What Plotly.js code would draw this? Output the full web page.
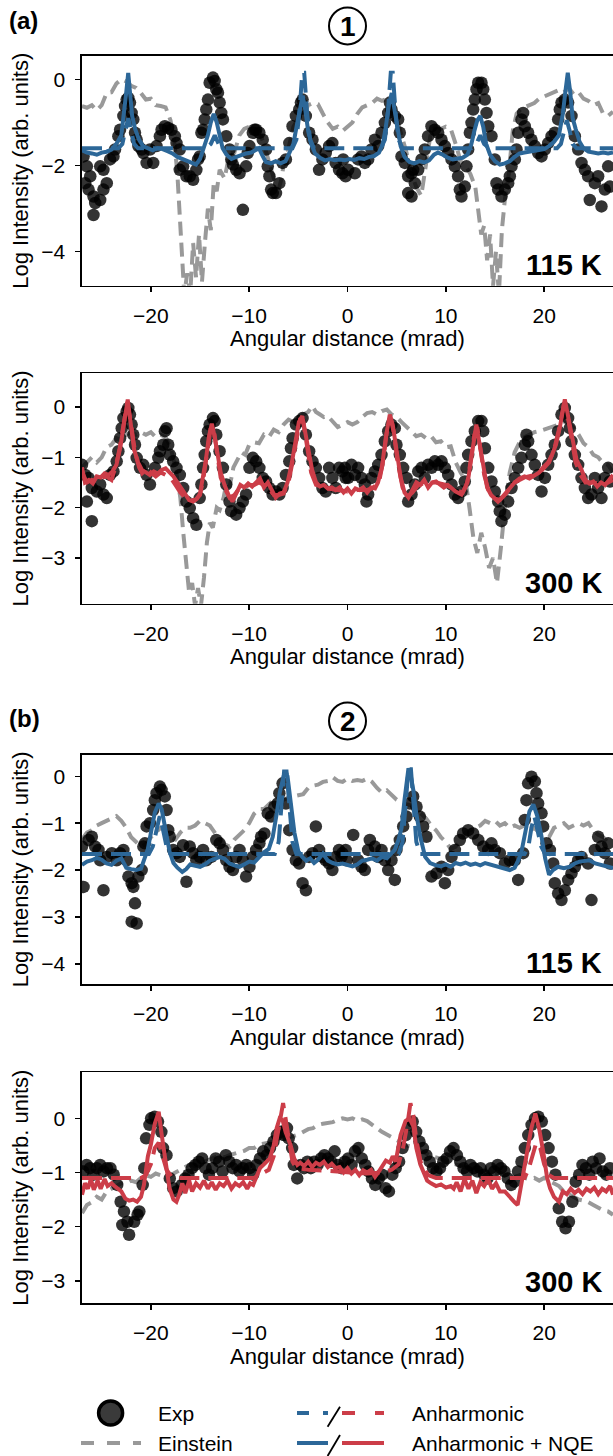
<!DOCTYPE html>
<html><head><meta charset="utf-8">
<script src="https://cdn.plot.ly/plotly-3.0.1.min.js"></script>
<style>html,body{margin:0;padding:0;background:#fff}</style>
</head><body><div id="chart" style="width:613px;height:1456px"></div>
<script>
// ---------- Panel (a) 115 K ----------
const p1_exp_x = [-26.84,-26.5,-26.16,-26.67,-26.33,-25.83,-25.66,-25.15,-25.83,-24.82,-24.48,-24.82,-25.15,-24.14,-23.8,-23.64,-23.3,-23.13,-22.79,-22.62,-22.46,-22.29,-22.12,-21.95,-21.78,-21.61,-21.44,-21.27,-20.93,-20.76,-20.43,-20.09,-19.76,-19.42,-19.08,-18.91,-18.58,-18.24,-17.9,-17.56,-17.39,-17.06,-17.06,-16.72,-16.38,-16.04,-15.7,-15.37,-15.2,-15.03,-14.86,-14.69,-14.52,-14.36,-14.19,-14.02,-13.68,-13.51,-13.34,-13.17,-13.0,-12.84,-12.67,-12.33,-11.99,-11.82,-11.65,-11.32,-10.98,-10.64,-10.31,-10.14,-9.97,-9.63,-9.46,-9.29,-8.96,-8.62,-8.28,-8.11,-7.94,-7.77,-7.6,-7.27,-6.93,-6.6,-6.26,-5.92,-5.59,-5.25,-4.91,-4.74,-4.57,-4.24,-3.9,-3.56,-3.22,-2.89,-2.55,-2.21,-1.87,-1.54,-1.2,-0.86,-0.52,-0.19,
 -0.44,0.07,0.75,1.08,1.42,1.76,2.1,2.44,2.78,3.12,3.46,3.8,4.14,4.31,4.47,4.81,5.15,5.32,5.49,5.83,6.17,6.51,6.68,6.85,6.17,6.51,7.19,7.53,7.86,8.2,8.54,8.88,9.22,9.56,9.9,10.24,10.58,10.92,11.25,11.42,11.59,11.93,12.1,12.27,12.44,12.61,12.78,12.95,13.12,13.29,13.63,13.8,13.97,14.14,14.31,14.64,14.98,15.15,15.32,15.66,16.0,16.34,16.51,16.68,17.02,17.19,17.36,17.69,17.86,18.03,18.37,18.71,19.05,19.39,19.73,20.07,20.41,20.75,21.08,21.42,21.59,21.76,22.1,22.44,22.78,23.12,23.46,23.8,24.14,24.47,24.64,25.15,25.49,25.83,26.17,26.51,26.68];
const p1_exp_y = [-1.79,-2.02,-2.25,-2.41,-2.56,-2.72,-2.87,-2.80,-3.15,-2.56,-2.41,-2.10,-2.02,-1.86,-1.79,-1.63,-1.32,-1.17,-0.85,-0.62,-0.47,-0.43,-0.54,-0.78,-0.93,-1.24,-1.40,-1.55,-1.63,-1.71,-1.94,-1.63,-1.94,-1.55,-1.32,-1.17,-1.09,-1.13,-1.17,-1.32,-1.48,-1.63,-2.10,-2.02,-2.25,-2.25,-2.33,-2.10,-1.86,-1.79,-1.24,-1.17,-0.93,-0.70,-0.47,-0.08,0.04,-0.04,-0.23,-0.31,-0.54,-0.78,-0.93,-1.32,-1.63,-1.86,-1.98,-2.10,-2.18,-3.03,-2.02,-1.71,-1.55,-1.24,-1.17,-1.17,-1.24,-1.40,-1.63,-2.02,-2.25,-2.56,-2.64,-2.64,-2.41,-1.94,-1.86,-1.48,-1.09,-0.85,-0.70,-0.54,-0.47,-0.85,-1.24,-1.40,-1.63,-2.10,-1.86,-1.71,-1.55,-1.48,-1.94,-2.10,-2.18,-2.25,
 -1.86,-2.10,-2.18,-1.86,-1.79,-1.94,-1.86,-1.63,-1.40,-1.55,-1.24,-1.01,-0.78,-0.54,-0.70,-0.85,-0.93,-1.24,-1.79,-1.94,-2.25,-2.18,-2.10,-2.41,-2.64,-2.72,-2.10,-1.86,-1.63,-1.32,-1.09,-1.17,-1.24,-1.40,-1.55,-1.71,-1.86,-2.02,-2.25,-2.56,-2.72,-2.49,-2.02,-1.63,-1.24,-1.01,-0.70,-0.47,-0.23,-0.08,-0.08,-0.23,-0.47,-0.78,-1.09,-1.32,-1.86,-2.41,-2.56,-2.72,-2.56,-2.41,-2.25,-2.02,-1.86,-1.63,-1.24,-0.93,-0.78,-1.09,-1.24,-1.40,-1.55,-1.71,-1.79,-1.63,-1.48,-1.32,-1.24,-0.93,-0.70,-0.54,-0.47,-0.54,-0.85,-1.32,-1.63,-1.94,-2.10,-2.25,-2.80,-2.41,-2.25,-2.95,-2.56,-2.02,-2.49];
const p1_ein_x = [-27,-26.5,-26,-25.5,-25,-24.5,-24,-23.5,-23,-22.5,-22,-21.5,-21,-20.5,-20,-19.5,-19,-18.5,-18,-17.6,-17.3,-17,-16.8,-16.6,-16.3,-16,-15.7,-15.4,-15.1,-14.8,-14.5,-14.2,-13.9,-13.6,-13.3,-13,-12.5,-12,-11.5,-11,-10.5,-10,-9.5,-9,-8.5,-8,-7.5,-7,-6.7,-6.3,-6,-5.5,-5,-4.5,-4,-3.5,-3,-2.5,-2,-1.5,-1,-0.5,0,0.5,1,1.5,2,2.5,3,3.5,4,4.5,5,5.5,6,6.5,7,7.5,8,8.5,9,9.5,10,10.5,11,11.5,12,12.5,13,13.3,13.6,13.9,14.2,14.5,14.8,15.1,15.4,15.7,16,16.4,16.8,17.2,17.6,18,18.5,19,19.5,20,20.5,21,21.5,22,22.5,23,23.5,24,24.5,25,25.5,26,26.5,27];
const p1_ein_y = [-0.62,-0.66,-0.6,-0.72,-0.6,-0.32,-0.3,-0.1,0.0,-0.05,-0.15,-0.2,-0.32,-0.47,-0.45,-0.6,-0.62,-0.65,-0.95,-1.45,-2.2,-3.2,-4.2,-5.0,-4.5,-5.0,-3.8,-4.6,-3.6,-4.7,-3.8,-3.0,-3.5,-2.4,-2.6,-2.1,-2.3,-1.72,-1.7,-1.3,-1.15,-1.1,-1.17,-1.2,-1.5,-1.9,-2.3,-2.55,-2.3,-1.65,-1.6,-1.1,-0.9,-0.85,-0.6,-0.55,-0.58,-0.8,-1.0,-1.15,-1.1,-1.2,-1.1,-1.0,-0.8,-0.65,-0.6,-0.55,-0.45,-0.5,-0.45,-0.55,-0.9,-1.3,-1.7,-2.2,-2.5,-2.7,-2.0,-1.2,-1.1,-1.15,-1.1,-1.15,-1.5,-1.9,-2.0,-2.2,-2.5,-3.0,-3.6,-3.4,-4.2,-3.6,-4.8,-4.0,-5.0,-3.5,-2.8,-2.2,-1.2,-0.8,-0.7,-0.65,-0.6,-0.55,-0.45,-0.4,-0.35,-0.3,-0.25,-0.3,-0.2,-0.35,-0.3,-0.45,-0.5,-0.6,-0.55,-0.8,-0.85,-0.75];
const p1_anh_x = [-27,-23.3,-22.9,-22.6,-22.3,-22.0,-21.7,-21.3,-14.4,-13.9,-13.5,-13.1,-12.6,-5.6,-5.2,-4.9,-4.6,-4.4,-4.1,-3.8,-3.4,3.4,3.8,4.1,4.4,4.6,4.9,5.2,5.6,12.6,13.1,13.5,13.9,14.4,21.3,21.7,22.0,22.3,22.6,22.9,23.3,27];
const p1_anh_y = [-1.6,-1.6,-1.5,-1.2,-0.9,-1.2,-1.5,-1.6,-1.6,-1.5,-1.3,-1.5,-1.6,-1.6,-1.4,-0.8,0.15,0.15,-0.8,-1.4,-1.6,-1.6,-1.4,-0.8,0.15,0.15,-0.8,-1.4,-1.6,-1.6,-1.5,-1.3,-1.5,-1.6,-1.6,-1.5,-1.2,-0.95,-1.2,-1.5,-1.6,-1.6];
const p1_nqe_x = [-27,-26.5,-26,-25.5,-25,-24.5,-24,-23.5,-23,-22.7,-22.5,-22.3,-22.1,-21.9,-21.6,-21.2,-20.8,-20.3,-19.8,-19.3,-18.8,-18.3,-17.8,-17.3,-16.8,-16.3,-15.8,-15.4,-15,-14.6,-14.2,-13.9,-13.6,-13.3,-13,-12.7,-12.3,-11.8,-11.3,-10.8,-10.3,-9.8,-9.3,-9,-8.7,-8.3,-7.8,-7.3,-6.8,-6.3,-5.9,-5.5,-5.1,-4.8,-4.55,-4.3,-4.0,-3.7,-3.3,-2.8,-2.3,-1.8,-1.3,-0.8,-0.3,0.2,0.7,1.2,1.7,2.2,2.7,3.2,3.6,3.9,4.2,4.5,4.8,5.1,5.4,5.8,6.3,6.8,7.3,7.8,8.3,8.8,9.2,9.7,10.2,10.7,11.2,11.7,12.2,12.6,12.9,13.2,13.5,13.8,14.1,14.5,15,15.5,16,16.5,17,17.5,18,18.5,19,19.5,20,20.5,21,21.5,21.9,22.15,22.4,22.65,22.9,23.2,23.6,24,24.5,25,25.5,26,26.5,27];
const p1_nqe_y = [-1.65,-1.7,-1.72,-1.75,-1.7,-1.68,-1.63,-1.5,-1.3,-0.8,-0.3,0.15,-0.3,-0.85,-1.15,-1.4,-1.55,-1.6,-1.65,-1.6,-1.62,-1.67,-1.72,-1.8,-1.85,-1.9,-1.95,-1.98,-1.85,-1.6,-1.3,-1.0,-0.8,-1.0,-1.35,-1.6,-1.75,-1.85,-1.8,-1.75,-1.72,-1.7,-1.65,-1.6,-1.75,-1.92,-1.95,-1.9,-1.95,-1.9,-1.7,-1.5,-1.0,-0.6,-0.38,-0.7,-1.2,-1.5,-1.72,-1.82,-1.88,-1.85,-1.88,-1.86,-1.88,-1.85,-1.87,-1.83,-1.85,-1.8,-1.78,-1.7,-1.5,-1.1,-0.6,-0.32,-0.7,-1.2,-1.55,-1.8,-1.92,-1.95,-1.9,-1.93,-1.88,-1.75,-1.7,-1.75,-1.82,-1.86,-1.85,-1.82,-1.75,-1.5,-1.2,-0.95,-0.85,-1.1,-1.5,-1.75,-1.9,-1.98,-1.95,-1.9,-1.8,-1.72,-1.7,-1.68,-1.65,-1.63,-1.62,-1.55,-1.45,-1.3,-0.8,-0.3,0.15,-0.3,-0.9,-1.15,-1.45,-1.6,-1.68,-1.7,-1.72,-1.7,-1.72,-1.7];

// ---------- Panel (a) 300 K ----------
const p2_exp_x = [-27.0,-26.67,-26.33,-26.0,-26.5,-26.0,-25.49,-25.15,-24.82,-24.48,-24.14,-23.8,-23.47,-23.3,-23.13,-22.96,-22.79,-22.46,-22.29,-22.12,-21.95,-21.78,-21.61,-21.44,-21.1,-20.77,-20.43,-20.09,-19.58,-19.24,-19.07,-18.74,-18.57,-18.4,-18.23,-18.06,-17.73,-17.39,-17.05,-16.71,-16.38,-16.04,-15.7,-15.37,-15.03,-14.86,-14.69,-14.52,-14.36,-14.19,-14.02,-13.68,-13.51,-13.34,-13.01,-12.67,-12.33,-12.0,-11.83,-11.32,-10.98,-10.64,-10.31,-9.97,-9.63,-9.29,-8.96,-8.62,-8.28,-7.95,-7.61,-7.27,-6.93,-6.6,-6.26,-5.92,-5.75,-5.58,-5.25,-4.91,-4.57,-4.23,-3.9,-3.56,-3.22,-2.88,-2.55,-2.21,-1.87,-1.54,-1.2,-0.86,-0.52,-0.19,
 -0.27,0.07,0.41,0.75,1.08,1.42,1.76,1.93,2.1,2.44,2.78,3.12,3.46,3.8,4.14,4.47,4.81,4.98,5.32,5.66,6.0,6.17,6.51,6.85,7.19,7.53,7.86,8.2,8.54,8.88,9.22,9.56,9.9,10.24,10.58,10.92,11.25,11.59,11.93,12.1,12.27,12.61,12.95,13.29,13.63,13.8,13.97,14.31,14.64,14.98,15.32,15.49,15.66,16.0,16.34,16.68,17.02,17.36,17.69,18.03,18.2,18.37,18.71,19.05,19.39,19.73,20.07,20.41,20.75,21.08,21.42,21.76,22.1,22.44,22.61,22.78,23.12,23.46,23.8,24.14,24.47,24.81,25.15,25.49,25.83,26.17,26.51,26.68];
const p2_exp_y = [-1.15,-1.35,-1.41,-1.61,-1.88,-2.27,-1.68,-1.54,-1.74,-1.81,-1.35,-1.28,-1.08,-0.88,-0.62,-0.42,-0.22,-0.09,-0.02,-0.15,-0.35,-0.55,-0.75,-1.01,-1.21,-1.15,-1.35,-1.54,-1.21,-1.01,-0.88,-0.75,-0.48,-0.42,-0.75,-0.95,-1.08,-1.21,-1.35,-1.61,-1.88,-2.01,-2.21,-2.34,-1.81,-1.54,-1.21,-0.95,-0.68,-0.48,-0.35,-0.22,-0.28,-0.55,-0.88,-1.21,-1.54,-1.88,-2.07,-2.14,-2.01,-1.88,-1.74,-1.21,-1.01,-1.08,-1.21,-1.41,-1.48,-1.61,-1.74,-1.68,-1.74,-1.61,-1.35,-1.08,-0.82,-0.62,-0.35,-0.28,-0.22,-0.55,-0.88,-1.08,-1.21,-1.41,-1.61,-1.68,-1.21,-1.41,-1.61,-1.21,-1.28,-1.41,
 -1.21,-1.41,-1.15,-1.35,-1.21,-1.41,-1.54,-1.88,-1.74,-1.41,-1.28,-1.15,-0.95,-0.68,-0.48,-0.35,-0.42,-0.75,-0.95,-1.21,-1.41,-1.88,-1.74,-1.54,-1.28,-1.21,-1.41,-1.15,-1.21,-1.08,-1.15,-1.08,-1.21,-1.35,-1.54,-1.74,-1.81,-1.68,-1.48,-1.21,-0.95,-0.68,-0.48,-0.28,-0.28,-0.48,-0.82,-1.21,-1.48,-1.68,-1.88,-2.07,-2.27,-2.14,-1.88,-1.61,-1.41,-1.21,-1.01,-0.75,-0.55,-0.68,-0.95,-1.15,-1.35,-1.68,-1.41,-1.15,-0.95,-0.75,-0.48,-0.15,-0.02,-0.22,-0.42,-0.68,-0.95,-1.15,-1.41,-1.61,-1.81,-1.74,-1.41,-1.61,-1.81,-1.41,-1.21,-1.48];
const p2_ein_x = [-27,-26.5,-26,-25.5,-25,-24.5,-24,-23.5,-23,-22.5,-22,-21.5,-21,-20.5,-20,-19.5,-19,-18.5,-18,-17.5,-17,-16.7,-16.4,-16.1,-15.8,-15.5,-15.2,-14.9,-14.6,-14.3,-14,-13.7,-13.3,-13,-12.6,-12.3,-12,-11.6,-11.2,-10.8,-10.4,-10,-9.5,-9,-8.5,-8,-7.5,-7,-6.5,-6,-5.5,-5,-4.5,-4,-3.6,-3.2,-2.8,-2.4,-2,-1.5,-1,-0.5,0,0.5,1,1.5,2,2.5,3,3.5,4,4.5,5,5.5,6,6.5,7,7.5,8,8.5,9,9.5,10,10.5,11,11.5,12,12.4,12.8,13.2,13.6,14,14.4,14.8,15.2,15.6,16,16.5,17,17.5,18,18.5,19,19.5,20,20.5,21,21.5,22,22.5,23,23.5,24,24.5,25,25.5,26,26.5,27];
const p2_ein_y = [-1.2,-1.1,-1.0,-1.1,-1.0,-0.8,-0.75,-0.62,-0.65,-0.55,-0.5,-0.55,-0.5,-0.55,-0.5,-0.6,-0.55,-0.6,-0.8,-1.2,-1.8,-2.5,-3.2,-3.7,-3.5,-3.95,-3.6,-3.95,-3.4,-2.7,-2.3,-2.4,-2.0,-2.05,-1.8,-1.5,-1.6,-1.2,-1.05,-0.9,-0.95,-0.75,-0.7,-0.72,-0.55,-0.6,-0.45,-0.5,-0.35,-0.25,-0.3,-0.2,-0.15,-0.1,0.02,-0.1,-0.15,-0.2,-0.18,-0.3,-0.4,-0.35,-0.3,-0.35,-0.3,-0.2,-0.12,-0.1,-0.15,-0.08,-0.05,-0.15,-0.2,-0.3,-0.4,-0.5,-0.58,-0.55,-0.62,-0.58,-0.7,-0.68,-0.8,-0.78,-1.1,-1.3,-1.45,-2.0,-2.6,-2.9,-2.5,-2.8,-3.2,-3.0,-3.5,-2.8,-2.0,-1.3,-0.9,-0.7,-0.6,-0.55,-0.5,-0.48,-0.45,-0.42,-0.4,-0.35,-0.3,-0.32,-0.42,-0.55,-0.72,-0.8,-0.95,-1.0,-1.12,-1.15,-1.3];
const p2_anh_x = [-27,-26.5,-26,-25.5,-25,-24.5,-24,-23.6,-23.2,-22.8,-22.4,-22.0,-21.6,-21.2,-20.8,-20.4,-20,-19.5,-19,-18.5,-18,-17.5,-17,-16.5,-16,-15.5,-15,-14.6,-14.2,-13.9,-13.6,-13.3,-12.9,-12.4,-12,-11.5,-11,-10.5,-10,-9.5,-9,-8.5,-8,-7.5,-7,-6.5,-6,-5.6,-5.2,-4.8,-4.5,-4.1,-3.7,-3.2,-2.5,-2,-1,0,1,2,2.5,3.2,3.6,4.0,4.35,4.7,5.1,5.6,6.1,6.6,7.2,8,9,10,11,11.7,12.2,12.6,12.9,13.2,13.5,13.9,14.4,15,15.5,16,16.5,17,18,19,19.8,20.5,21,21.5,22,22.4,22.8,23.2,23.7,24.2,25,26,27];
const p2_anh_y = [-1.3,-1.5,-1.45,-1.48,-1.4,-1.38,-1.45,-1.2,-0.85,-0.35,0.1,-0.35,-0.9,-1.2,-1.35,-1.4,-1.3,-1.38,-1.3,-1.35,-1.4,-1.55,-1.7,-1.8,-1.85,-1.85,-1.75,-1.35,-0.8,-0.4,-0.45,-0.9,-1.4,-1.65,-1.8,-1.75,-1.62,-1.6,-1.55,-1.55,-1.5,-1.55,-1.62,-1.75,-1.75,-1.72,-1.5,-1.1,-0.6,-0.22,-0.3,-0.8,-1.3,-1.55,-1.6,-1.62,-1.65,-1.68,-1.65,-1.65,-1.62,-1.5,-1.1,-0.5,-0.2,-0.5,-1.1,-1.6,-1.78,-1.7,-1.55,-1.5,-1.5,-1.55,-1.65,-1.7,-1.5,-1.0,-0.55,-0.4,-0.8,-1.35,-1.7,-1.82,-1.85,-1.75,-1.62,-1.5,-1.4,-1.35,-1.25,-1.1,-0.85,-0.45,0.05,-0.2,-0.65,-1.1,-1.35,-1.5,-1.5,-1.55,-1.45];
const p2_nqe_x = [-27,-26.7,-26.3,-25.9,-25.5,-25.1,-24.7,-24.3,-23.9,-23.5,-23.1,-22.7,-22.35,-22.0,-21.7,-21.3,-20.9,-20.5,-20.1,-19.7,-19.3,-18.9,-18.5,-18.1,-17.7,-17.3,-16.9,-16.5,-16.1,-15.7,-15.3,-15,-14.7,-14.4,-14.1,-13.8,-13.5,-13.2,-12.9,-12.5,-12.1,-11.7,-11.3,-10.9,-10.5,-10.1,-9.7,-9.3,-8.9,-8.5,-8.1,-7.7,-7.3,-6.9,-6.5,-6.1,-5.7,-5.3,-4.95,-4.6,-4.3,-4.0,-3.6,-3.2,-2.8,-2.4,-2,-1.6,-1.2,-0.8,-0.4,0,0.4,0.8,1.2,1.6,2,2.4,2.8,3.1,3.5,3.9,4.3,4.6,5.0,5.4,5.8,6.2,6.6,7,7.4,7.8,8.2,8.6,9,9.4,9.8,10.2,10.6,11,11.6,12,12.3,12.6,12.9,13.1,13.4,13.8,14.2,14.6,15,15.3,15.7,16.1,16.5,17,17.5,18,18.5,19,19.5,19.9,20.4,20.8,21.2,21.6,22.1,22.5,22.9,23.3,23.8,24.2,24.6,25,25.4,25.8,26.2,26.6,27];
const p2_nqe_y = [-1.2,-1.5,-1.45,-1.52,-1.38,-1.4,-1.32,-1.35,-1.28,-1.15,-0.8,-0.35,0.15,-0.4,-0.85,-1.1,-1.25,-1.3,-1.35,-1.28,-1.32,-1.25,-1.22,-1.3,-1.38,-1.5,-1.62,-1.75,-1.85,-1.88,-1.82,-1.72,-1.4,-1.05,-0.6,-0.33,-0.6,-1.0,-1.3,-1.55,-1.75,-1.88,-1.7,-1.55,-1.6,-1.52,-1.58,-1.5,-1.42,-1.6,-1.5,-1.65,-1.8,-1.72,-1.7,-1.5,-1.15,-0.7,-0.3,-0.18,-0.5,-0.9,-1.25,-1.5,-1.58,-1.55,-1.62,-1.6,-1.65,-1.6,-1.7,-1.62,-1.72,-1.62,-1.65,-1.6,-1.7,-1.6,-1.62,-1.5,-1.2,-0.6,-0.15,-0.35,-0.95,-1.4,-1.7,-1.8,-1.65,-1.5,-1.55,-1.45,-1.6,-1.5,-1.48,-1.55,-1.6,-1.55,-1.62,-1.68,-1.74,-1.6,-1.4,-0.95,-0.5,-0.35,-0.7,-1.2,-1.6,-1.75,-1.82,-1.88,-1.8,-1.7,-1.6,-1.5,-1.42,-1.38,-1.42,-1.35,-1.3,-1.2,-1.1,-0.95,-0.75,-0.4,0.15,-0.25,-0.7,-1.05,-1.25,-1.45,-1.52,-1.48,-1.58,-1.5,-1.55,-1.45,-1.35];

// ---------- Panel (b) 115 K ----------
const p3_exp_x = [-27.0,-26.84,-26.33,-26.0,-25.66,-25.32,-25.15,-24.82,-24.48,-23.97,-23.47,-23.13,-22.79,-22.45,-22.28,-21.95,-21.78,-21.61,-21.95,-21.44,-21.27,-20.93,-20.76,-20.6,-20.43,-20.09,-19.76,-19.59,-19.42,-19.08,-18.91,-18.58,-18.4,-18.23,-18.07,-17.73,-17.39,-17.06,-16.72,-16.38,-16.04,-15.7,-15.37,-15.03,-14.69,-14.36,-13.85,-13.34,-13.0,-12.66,-12.33,-12.0,-11.65,-11.32,-10.98,-10.64,-10.31,-9.97,-9.63,-9.29,-8.96,-8.79,-8.45,-8.11,-7.78,-7.44,-7.1,-6.93,-6.6,-6.26,-5.92,-5.58,-5.25,-4.91,-4.57,-4.23,-3.9,-3.56,-3.22,-2.89,-2.55,-2.21,-1.87,-1.54,-1.2,-0.86,-0.52,-0.19,
 -0.61,-0.1,0.58,1.08,1.42,1.76,2.1,2.27,2.78,3.12,3.46,3.8,4.14,4.47,4.81,4.98,5.32,5.66,6.0,6.34,6.68,7.02,7.36,7.69,8.03,8.54,9.05,9.56,9.9,10.24,10.58,10.92,11.42,11.76,12.27,12.78,13.29,13.8,14.31,14.64,14.98,15.49,16.0,16.51,17.02,17.36,17.86,18.03,18.2,18.37,18.71,19.05,19.22,19.39,19.73,19.9,20.24,20.58,20.92,21.08,21.42,21.76,22.1,22.44,22.78,23.12,23.46,23.8,24.47,24.81,25.15,25.49,25.83,26.17,26.51,26.68];
const p3_exp_y = [-1.50,-2.36,-1.36,-1.29,-1.50,-1.57,-1.79,-2.43,-1.72,-1.64,-1.79,-1.64,-1.57,-1.79,-2.14,-2.28,-2.36,-2.71,-3.10,-3.14,-2.14,-2.00,-1.50,-1.43,-1.07,-1.00,-0.72,-0.51,-0.36,-0.22,-0.29,-0.43,-0.72,-1.15,-1.29,-1.57,-1.64,-1.72,-1.47,-2.25,-1.50,-1.64,-1.79,-1.72,-1.57,-1.79,-1.72,-1.36,-1.43,-1.57,-1.79,-1.93,-2.00,-1.72,-1.57,-1.79,-2.14,-1.93,-1.72,-1.57,-1.43,-1.29,-1.22,-0.79,-0.86,-0.65,-0.58,-0.36,-0.15,-0.58,-1.15,-1.57,-1.79,-1.86,-2.28,-2.43,-1.72,-1.64,-1.07,-1.57,-1.72,-1.79,-1.86,-2.00,-1.72,-1.57,-1.64,-1.57,
 -1.72,-1.79,-1.25,-1.79,-1.93,-2.00,-1.57,-1.36,-1.50,-1.72,-1.57,-1.79,-2.00,-1.79,-2.21,-1.57,-1.36,-1.07,-0.86,-0.58,-0.43,-0.65,-0.86,-1.07,-1.29,-2.14,-2.07,-1.93,-2.28,-2.00,-1.72,-1.57,-1.36,-1.22,-1.15,-1.22,-1.36,-1.50,-1.57,-1.43,-1.57,-1.64,-1.86,-1.79,-1.79,-2.21,-1.64,-0.93,-0.51,-0.15,-0.01,-0.11,-0.36,-0.58,-0.79,-1.07,-1.43,-1.57,-1.86,-2.28,-2.50,-2.64,-2.43,-2.21,-2.07,-1.93,-1.79,-1.72,-1.86,-2.64,-1.57,-1.29,-1.50,-1.64,-1.43,-1.86];
const p3_ein_x = [-27,-26.5,-26,-25.5,-25,-24.5,-24,-23.5,-23,-22.5,-22,-21.5,-21,-20.5,-20,-19.5,-19,-18.5,-18,-17.5,-17,-16.5,-16,-15.5,-15,-14.5,-14,-13.5,-13,-12.5,-12,-11.5,-11,-10.5,-10,-9.5,-9,-8.5,-8,-7.5,-7,-6.5,-6,-5.5,-5,-4.5,-4,-3.5,-3,-2.5,-2,-1.5,-1,-0.5,0,0.5,1,1.5,2,2.5,3,3.5,4,4.5,5,5.5,6,6.5,7,7.5,8,8.5,9,9.5,10,10.5,11,11.5,12,12.5,13,13.5,14,14.5,15,15.5,16,16.5,17,17.5,18,18.5,19,19.5,20,20.5,21,21.5,22,22.5,23,23.5,24,24.5,25,25.5,26,26.5,27];
const p3_ein_y = [-1.35,-1.2,-1.15,-1.05,-1.0,-0.95,-0.9,-0.85,-0.95,-1.1,-1.3,-1.4,-1.5,-1.45,-1.3,-1.2,-1.1,-1.15,-1.3,-1.35,-1.2,-1.1,-1.1,-1.05,-0.95,-1.0,-1.05,-1.2,-1.35,-1.45,-1.5,-1.35,-1.25,-1.15,-1.0,-0.8,-0.7,-0.7,-0.6,-0.5,-0.45,-0.5,-0.45,-0.42,-0.4,-0.38,-0.25,-0.2,-0.18,-0.12,-0.1,-0.02,-0.1,-0.12,-0.05,-0.1,-0.08,-0.1,-0.05,-0.12,-0.25,-0.35,-0.3,-0.4,-0.5,-0.55,-0.6,-0.62,-0.7,-0.8,-0.9,-1.05,-1.15,-1.3,-1.4,-1.55,-1.5,-1.35,-1.2,-1.15,-1.1,-1.05,-0.95,-1.0,-0.95,-1.05,-1.0,-1.1,-1.05,-1.1,-1.05,-1.15,-1.1,-1.2,-1.25,-1.3,-1.1,-1.05,-1.0,-1.1,-1.05,-1.0,-1.05,-1.0,-1.15,-1.25,-1.3,-1.4,-1.45];
const p3_anh_x = [-27,-20.2,-19.8,-19.4,-19.1,-18.8,-18.4,-18,-7.4,-7.0,-6.7,-6.45,-6.2,-5.95,-5.6,-5.2,5.2,5.6,5.95,6.2,6.45,6.7,7.0,7.4,18,18.4,18.7,19.0,19.3,19.7,20.1,27];
const p3_anh_y = [-1.66,-1.66,-1.5,-1.1,-0.85,-1.1,-1.5,-1.66,-1.66,-1.4,-0.6,0.1,0.1,-0.6,-1.4,-1.66,-1.66,-1.4,-0.6,0.15,0.15,-0.6,-1.4,-1.66,-1.66,-1.5,-1.1,-0.85,-1.1,-1.5,-1.66,-1.66];
const p3_nqe_x = [-27,-26.5,-26,-25.5,-25,-24.5,-24,-23.5,-23,-22.5,-22,-21.5,-21,-20.7,-20.3,-19.9,-19.6,-19.2,-18.9,-18.5,-18.1,-17.7,-17.3,-16.8,-16.4,-16,-15.5,-15,-14.5,-14,-13.5,-13,-12.5,-12,-11.5,-11,-10.5,-10,-9.5,-9,-8.5,-8,-7.6,-7.2,-6.9,-6.5,-6.3,-6.1,-5.8,-5.4,-5.0,-4.6,-4.2,-3.8,-3.4,-3,-2.5,-2,-1.5,-1,-0.5,0,0.5,1,1.5,2,2.5,3,3.5,4,4.5,4.8,5.2,5.5,5.8,6.0,6.2,6.4,6.7,7.0,7.4,7.9,8.4,9,9.5,10,10.5,11,11.5,12,12.5,13,13.5,14,14.5,15,15.5,16,16.5,17,17.4,17.7,18.1,18.5,18.9,19.3,19.7,20.1,20.5,20.9,21.4,22,22.6,23.1,23.6,24.1,24.6,25.2,25.8,26.4,27];
const p3_nqe_y = [-1.89,-1.82,-1.79,-1.74,-1.78,-1.86,-1.89,-1.8,-1.75,-1.95,-1.98,-2.0,-1.97,-1.8,-1.55,-1.1,-0.78,-0.58,-0.7,-1.15,-1.6,-1.85,-1.95,-2.04,-1.98,-1.88,-1.9,-1.93,-1.88,-1.8,-1.76,-1.72,-1.76,-1.86,-1.9,-1.93,-1.88,-1.82,-1.84,-1.72,-1.62,-1.55,-1.29,-0.8,-0.36,0.0,0.1,0.0,-0.5,-1.2,-1.6,-1.72,-1.8,-1.75,-1.85,-1.78,-1.65,-1.8,-1.85,-1.88,-1.86,-1.9,-1.92,-1.88,-1.8,-1.78,-1.75,-1.8,-1.72,-1.75,-1.65,-1.57,-1.35,-1.1,-0.5,-0.1,0.17,0.05,-0.3,-0.8,-1.29,-1.72,-1.85,-1.9,-1.92,-1.88,-1.93,-1.85,-1.88,-1.84,-1.89,-1.86,-1.9,-1.85,-1.88,-1.93,-1.96,-1.98,-2.0,-1.95,-1.78,-1.6,-1.15,-0.75,-0.6,-0.85,-1.25,-1.75,-2.1,-2.0,-1.93,-1.96,-1.93,-1.86,-1.82,-1.8,-1.79,-1.86,-1.9,-1.93,-1.96];

// ---------- Panel (b) 300 K ----------
const p4_exp_x = [-26.87,-26.53,-26.18,-25.84,-25.49,-25.15,-24.8,-24.46,-24.11,-23.77,-23.42,-23.07,-22.73,-22.38,-22.9,-22.21,-21.69,-21.35,-21.17,-20.83,-20.66,-20.48,-20.14,-19.97,-19.62,-19.27,-18.93,-18.76,-18.41,-18.07,-17.72,-17.37,-16.86,-16.51,-16.17,-15.82,-15.47,-15.13,-14.78,-14.44,-14.09,-13.75,-13.4,-13.06,-12.71,-12.37,-12.02,-11.68,-11.33,-10.98,-10.64,-10.29,-9.95,-9.6,-9.26,-8.91,-8.57,-8.22,-7.88,-7.53,-7.18,-6.84,-6.49,-6.15,-5.98,-5.63,-5.46,-5.11,-4.77,-4.42,-4.08,-3.73,-3.39,-3.04,-2.69,-2.35,-2.0,-1.66,-1.31,-0.97,-0.62,-0.28,0.07,0.41,0.76,1.11,1.45,1.8,2.14,2.49,2.83,3.18,3.52,3.87,4.21,4.56,4.9,5.25,5.6,5.94,6.29,6.63,6.98,7.32,7.67,8.01,8.36,8.7,9.05,9.4,9.74,10.09,10.43,10.78,11.12,11.47,11.81,12.16,12.5,12.85,13.19,13.54,13.89,14.23,14.58,14.92,15.27,15.61,15.96,16.3,16.65,16.99,17.34,17.69,18.03,18.38,18.72,19.07,19.41,19.76,20.1,20.45,20.79,21.14,21.49,21.83,22.18,22.52,22.87,23.21,23.56,23.9,24.25,24.59,24.94,25.28,25.63,25.97,26.32,26.67];
const p4_exp_y = [-0.98,-0.86,-0.92,-1.04,-0.92,-0.86,-0.98,-0.92,-0.92,-1.04,-1.23,-1.54,-1.72,-1.91,-1.97,-2.15,-1.91,-1.78,-1.72,-1.23,-0.92,-0.37,-0.12,0.0,0.03,-0.06,-0.25,-0.55,-0.68,-1.11,-1.29,-1.35,-1.23,-1.11,-1.04,-0.92,-0.86,-0.80,-0.74,-0.92,-1.04,-0.92,-0.74,-0.80,-0.98,-0.68,-0.80,-0.92,-0.86,-0.98,-0.92,-0.86,-0.92,-1.04,-0.86,-0.74,-0.61,-0.68,-0.55,-0.43,-0.31,-0.25,-0.31,-0.18,-0.37,-0.55,-0.86,-1.11,-0.86,-0.92,-0.80,-0.92,-0.80,-0.86,-0.74,-0.68,-0.74,-0.80,-0.61,-0.86,-0.92,-0.80,-0.74,-0.86,-0.61,-0.55,-0.74,-0.86,-0.98,-1.11,-1.23,-1.11,-1.04,-1.29,-1.35,-1.04,-0.92,-0.80,-0.55,-0.31,-0.12,-0.06,-0.25,-0.43,-0.55,-0.68,-0.80,-0.92,-0.98,-0.92,-0.80,-0.74,-0.61,-0.55,-0.68,-0.80,-0.92,-0.98,-0.86,-0.92,-0.98,-0.92,-1.04,-1.11,-0.92,-0.98,-0.86,-0.92,-0.98,-1.11,-1.23,-1.17,-0.98,-0.80,-0.55,-0.31,-0.12,0.0,0.03,-0.06,-0.31,-0.55,-0.80,-1.04,-1.66,-1.91,-2.03,-1.91,-1.54,-1.17,-1.04,-0.86,-0.92,-1.04,-0.80,-0.92,-0.74,-0.98,-1.04,-0.92];
const p4_ein_x = [-27,-26.5,-26,-25.5,-25,-24.5,-24,-23.5,-23,-22.5,-22,-21.5,-21,-20.5,-20,-19.5,-19,-18.5,-18,-17.5,-17,-16.5,-16,-15.5,-15,-14.5,-14,-13.5,-13,-12.5,-12,-11.5,-11,-10.5,-10,-9.5,-9,-8.5,-8,-7.5,-7,-6.5,-6,-5.5,-5,-4.5,-4,-3.5,-3,-2.5,-2,-1.5,-1,-0.5,0,0.5,1,1.5,2,2.5,3,3.5,4,4.5,5,5.5,6,6.5,7,7.5,8,8.5,9,9.5,10,10.5,11,11.5,12,12.5,13,13.5,14,14.5,15,15.5,16,16.5,17,17.5,18,18.5,19,19.5,20,20.5,21,21.5,22,22.5,23,23.5,24,24.5,25,25.5,26,26.5,27];
const p4_ein_y = [-1.75,-1.6,-1.55,-1.45,-1.5,-1.35,-1.3,-1.25,-1.2,-1.2,-1.15,-1.18,-1.1,-1.05,-1.08,-1.02,-1.05,-1.0,-1.05,-1.0,-0.95,-0.9,-0.85,-0.88,-0.8,-0.8,-0.75,-0.72,-0.7,-0.72,-0.68,-0.65,-0.62,-0.6,-0.55,-0.55,-0.48,-0.47,-0.45,-0.42,-0.4,-0.38,-0.35,-0.33,-0.3,-0.25,-0.2,-0.18,-0.12,-0.1,-0.08,-0.07,-0.03,0.0,-0.02,0.0,-0.05,-0.02,-0.05,-0.12,-0.18,-0.25,-0.3,-0.35,-0.42,-0.45,-0.5,-0.52,-0.55,-0.6,-0.65,-0.7,-0.72,-0.75,-0.8,-0.82,-0.85,-0.88,-0.9,-0.92,-0.95,-0.98,-1.0,-0.98,-1.02,-1.0,-1.05,-1.02,-1.08,-1.05,-1.1,-1.12,-1.1,-1.15,-1.1,-1.15,-1.2,-1.25,-1.35,-1.4,-1.45,-1.5,-1.52,-1.55,-1.6,-1.65,-1.7,-1.72,-1.78];
const p4_anh_x = [-27,-21,-20.5,-20.0,-19.6,-19.2,-18.8,-18.4,-17.8,-9.5,-9,-8,-7.5,-7.1,-6.8,-6.55,-6.3,-6.0,-5.6,-5.2,-4,-2,0,2,3.5,4.5,5.2,5.7,6.1,6.4,6.7,7.0,7.5,8.2,9,18,18.4,18.8,19.2,19.6,20.0,20.5,21,27];
const p4_anh_y = [-1.1,-1.1,-1.05,-0.85,-0.55,-0.45,-0.7,-0.95,-1.1,-1.1,-1.05,-0.95,-0.7,-0.3,0.0,0.28,0.0,-0.4,-0.8,-0.92,-0.95,-0.97,-1.0,-1.02,-1.0,-0.95,-0.85,-0.5,-0.1,0.28,0.05,-0.4,-0.85,-1.05,-1.1,-1.1,-0.95,-0.7,-0.45,-0.55,-0.85,-1.05,-1.1,-1.1];
const p4_nqe_x = [-27,-26.7,-26.4,-26.1,-25.8,-25.4,-25.1,-24.7,-24.4,-24,-23.7,-23.3,-23,-22.6,-22.2,-21.8,-21.4,-21,-20.7,-20.3,-20.0,-19.6,-19.2,-18.9,-18.6,-18.1,-17.7,-17.4,-17.1,-16.8,-16.5,-16.1,-15.8,-15.4,-15.0,-14.6,-14.2,-13.8,-13.4,-13,-12.6,-12.2,-11.8,-11.4,-11,-10.6,-10.2,-9.9,-9.6,-9.2,-8.9,-8.5,-8.2,-7.9,-7.5,-7.2,-6.9,-6.6,-6.3,-5.8,-5.4,-5.1,-4.8,-4.4,-4.0,-3.6,-3.2,-2.8,-2.4,-2,-1.6,-1.2,-0.8,-0.4,0,0.4,0.8,1.2,1.6,2,2.4,2.8,3.2,3.5,3.9,4.3,4.6,4.9,5.4,5.9,6.3,6.7,7.0,7.4,7.7,8.1,8.5,9,9.5,10,10.5,10.8,11.1,11.5,11.9,12.3,12.7,13.1,13.5,13.9,14.3,14.7,15.1,15.5,16,16.6,17.0,17.3,17.7,18,18.4,18.7,19.1,19.5,19.9,20.3,20.6,21.0,21.5,21.9,22.3,22.7,23.1,23.5,23.9,24.3,24.7,25.1,25.5,25.9,26.3,26.7,27];
const p4_nqe_y = [-1.41,-1.2,-1.3,-1.12,-1.32,-1.15,-1.3,-1.12,-1.25,-1.2,-1.25,-1.3,-1.35,-1.48,-1.52,-1.5,-1.54,-1.45,-1.23,-0.7,-0.49,-0.1,0.12,-0.3,-0.68,-1.29,-1.5,-1.54,-1.4,-1.2,-1.38,-1.15,-1.35,-1.2,-1.28,-1.15,-1.3,-1.18,-1.32,-1.2,-1.25,-1.15,-1.3,-1.2,-1.25,-1.18,-1.3,-1.2,-1.23,-1.05,-0.92,-0.85,-0.8,-0.74,-0.5,-0.18,0.0,-0.03,-0.25,-0.49,-0.75,-0.86,-0.82,-0.88,-0.8,-0.9,-0.82,-0.86,-0.8,-0.9,-0.84,-0.92,-0.9,-1.0,-0.92,-1.02,-0.95,-1.05,-0.96,-1.0,-0.95,-1.08,-0.98,-0.9,-0.78,-0.82,-0.7,-0.8,-0.31,-0.05,0.0,-0.15,-0.55,-0.85,-0.98,-1.15,-1.2,-1.25,-1.22,-1.28,-1.25,-1.3,-1.18,-1.35,-1.12,-1.3,-1.15,-1.38,-1.18,-1.25,-1.12,-1.3,-1.2,-1.35,-1.35,-1.48,-1.55,-1.6,-1.2,-0.92,-0.5,-0.18,0.09,-0.2,-0.61,-1.1,-1.29,-1.45,-1.54,-1.35,-1.4,-1.3,-1.38,-1.32,-1.4,-1.3,-1.35,-1.28,-1.4,-1.3,-1.35,-1.25,-1.41];

const tick_vals_x = [-20,-10,0,10,20];
const panel_labels = ['115 K','300 K','115 K','300 K'];
const x_title = 'Angular distance (mrad)';
const y_title = 'Log Intensity (arb. units)';

// ---------- styling ----------
const FONT = 'Liberation Sans, Arial, Helvetica, sans-serif';
const BLUE = '#2c6798', RED = '#cc3d48', GRAY = '#999999';
const W = 613, H = 1456, ML = 82;
const px = v => (v - ML) / (W - ML);
const py = v => 1 - v / H;

const panels = [
  {ex:p1_exp_x, ey:p1_exp_y, gx:p1_ein_x, gy:p1_ein_y, ax:p1_anh_x, ay:p1_anh_y, nx:p1_nqe_x, ny:p1_nqe_y, col:BLUE, top:55.7, bot:285.7, range:[-4.79,0.548], dtick:2},
  {ex:p2_exp_x, ey:p2_exp_y, gx:p2_ein_x, gy:p2_ein_y, ax:p2_anh_x, ay:p2_anh_y, nx:p2_nqe_x, ny:p2_nqe_y, col:RED, top:373.3, bot:603.7, range:[-3.91,0.67], dtick:1},
  {ex:p3_exp_x, ey:p3_exp_y, gx:p3_ein_x, gy:p3_ein_y, ax:p3_anh_x, ay:p3_anh_y, nx:p3_nqe_x, ny:p3_nqe_y, col:BLUE, top:754.7, bot:984, range:[-4.43,0.46], dtick:1},
  {ex:p4_exp_x, ey:p4_exp_y, gx:p4_ein_x, gy:p4_ein_y, ax:p4_anh_x, ay:p4_anh_y, nx:p4_nqe_x, ny:p4_nqe_y, col:RED, top:1072.3, bot:1303, range:[-3.41,0.85], dtick:1},
];

const traces = [];
const layout = {
  width: W, height: H, margin:{l:ML, r:0, t:0, b:0},
  paper_bgcolor:'#fff', plot_bgcolor:'#fff', showlegend:false,
  font:{family:FONT, color:'#000'},
  annotations:[], shapes:[]
};

panels.forEach((p, i) => {
  const n = i === 0 ? '' : String(i+1);
  const xa = 'x'+n, ya = 'y'+n;
  traces.push({x:p.gx, y:p.gy, xaxis:xa, yaxis:ya, mode:'lines', line:{color:GRAY, width:4, dash:'14px,7px'}, hoverinfo:'skip'});
  traces.push({x:p.ex, y:p.ey, xaxis:xa, yaxis:ya, mode:'markers', marker:{color:'#000', size:12.5, opacity:0.8, line:{width:0}}});
  traces.push({x:p.ax, y:p.ay, xaxis:xa, yaxis:ya, mode:'lines', line:{color:p.col, width:4, dash:'20px,9px'}});
  traces.push({x:p.nx, y:p.ny, xaxis:xa, yaxis:ya, mode:'lines', line:{color:p.col, width:4}});
  layout['xaxis'+n] = {
    domain:[0,1], anchor:ya, range:[-27,27], tickvals:tick_vals_x,
    ticks:'outside', ticklen:5, tickwidth:1.5, tickcolor:'#000', ticklabelstandoff:5,
    showline:true, linecolor:'#000', linewidth:1.6, mirror:true,
    showgrid:false, zeroline:false, tickfont:{size:21, family:FONT},
    title:{text:x_title, font:{size:22, family:FONT}, standoff:5}
  };
  layout['yaxis'+n] = {
    domain:[py(p.bot), py(p.top)], anchor:xa, range:p.range, dtick:p.dtick, tick0:0,
    ticks:'outside', ticklen:5, tickwidth:1.5, tickcolor:'#000', ticklabelstandoff:6,
    showline:true, linecolor:'#000', linewidth:1.6, mirror:true,
    showgrid:false, zeroline:false, tickfont:{size:21, family:FONT},
    title:{text:y_title, font:{size:22, family:FONT}, standoff:6}
  };
  layout.annotations.push({
    text:'<b>'+panel_labels[i]+'</b>', xref:xa+' domain', yref:ya+' domain', x:1, y:0,
    xanchor:'right', yanchor:'bottom', xshift:-9, yshift:3, showarrow:false,
    font:{size:29, family:FONT, color:'#000'}
  });
});

// panel letters and circled numbers
[['(a)',21,'1',26],['(b)',718,'2',721]].forEach(([lab, ly, num, cy]) => {
  layout.annotations.push({text:'<b>'+lab+'</b>', xref:'paper', yref:'paper', x:px(7), y:py(ly), xanchor:'left', yanchor:'middle', showarrow:false, font:{size:24, family:FONT}});
  layout.annotations.push({text:'<b>'+num+'</b>', xref:'paper', yref:'paper', x:px(347.5), y:py(cy), xanchor:'center', yanchor:'middle', showarrow:false, font:{size:28, family:FONT}});
  layout.shapes.push({type:'circle', xref:'paper', yref:'paper', xsizemode:'pixel', ysizemode:'pixel', xanchor:px(347.5), yanchor:py(cy), x0:-18.5, x1:18.5, y0:-18.5, y1:18.5, line:{color:'#000', width:2}});
});

// legend (drawn manually)
const leg = layout.shapes;
leg.push({type:'circle', xref:'paper', yref:'paper', xsizemode:'pixel', ysizemode:'pixel', xanchor:px(110.6), yanchor:py(1413), x0:-12, x1:12, y0:-12, y1:12, fillcolor:'#3a3a3a', line:{color:'#000', width:3.5}});
leg.push({type:'line', xref:'paper', yref:'paper', x0:px(81), x1:px(141), y0:py(1443), y1:py(1443), line:{color:GRAY, width:4, dash:'13px,13px'}});
leg.push({type:'line', xref:'paper', yref:'paper', x0:px(297), x1:px(328), y0:py(1413), y1:py(1413), line:{color:BLUE, width:4, dash:'12px,14px'}});
leg.push({type:'line', xref:'paper', yref:'paper', x0:px(342), x1:px(384), y0:py(1413), y1:py(1413), line:{color:RED, width:4, dash:'13px,20px'}});
leg.push({type:'line', xref:'paper', yref:'paper', x0:px(327.6), x1:px(340), y0:py(1426.7), y1:py(1406.7), line:{color:'#000', width:1.8}});
leg.push({type:'line', xref:'paper', yref:'paper', x0:px(297), x1:px(328), y0:py(1443), y1:py(1443), line:{color:BLUE, width:4}});
leg.push({type:'line', xref:'paper', yref:'paper', x0:px(342), x1:px(384), y0:py(1443), y1:py(1443), line:{color:RED, width:4}});
leg.push({type:'line', xref:'paper', yref:'paper', x0:px(327.6), x1:px(340), y0:py(1456), y1:py(1435), line:{color:'#000', width:1.8}});
[['Exp',156,1413],['Einstein',156,1443],['Anharmonic',410,1413],['Anharmonic + NQE',410,1443]].forEach(([t,x,y]) => {
  layout.annotations.push({text:t, xref:'paper', yref:'paper', x:px(x), y:py(y), xanchor:'left', yanchor:'middle', showarrow:false, font:{size:21, family:FONT}});
});

Plotly.newPlot('chart', traces, layout, {staticPlot:true, displayModeBar:false});
</script></body></html>
